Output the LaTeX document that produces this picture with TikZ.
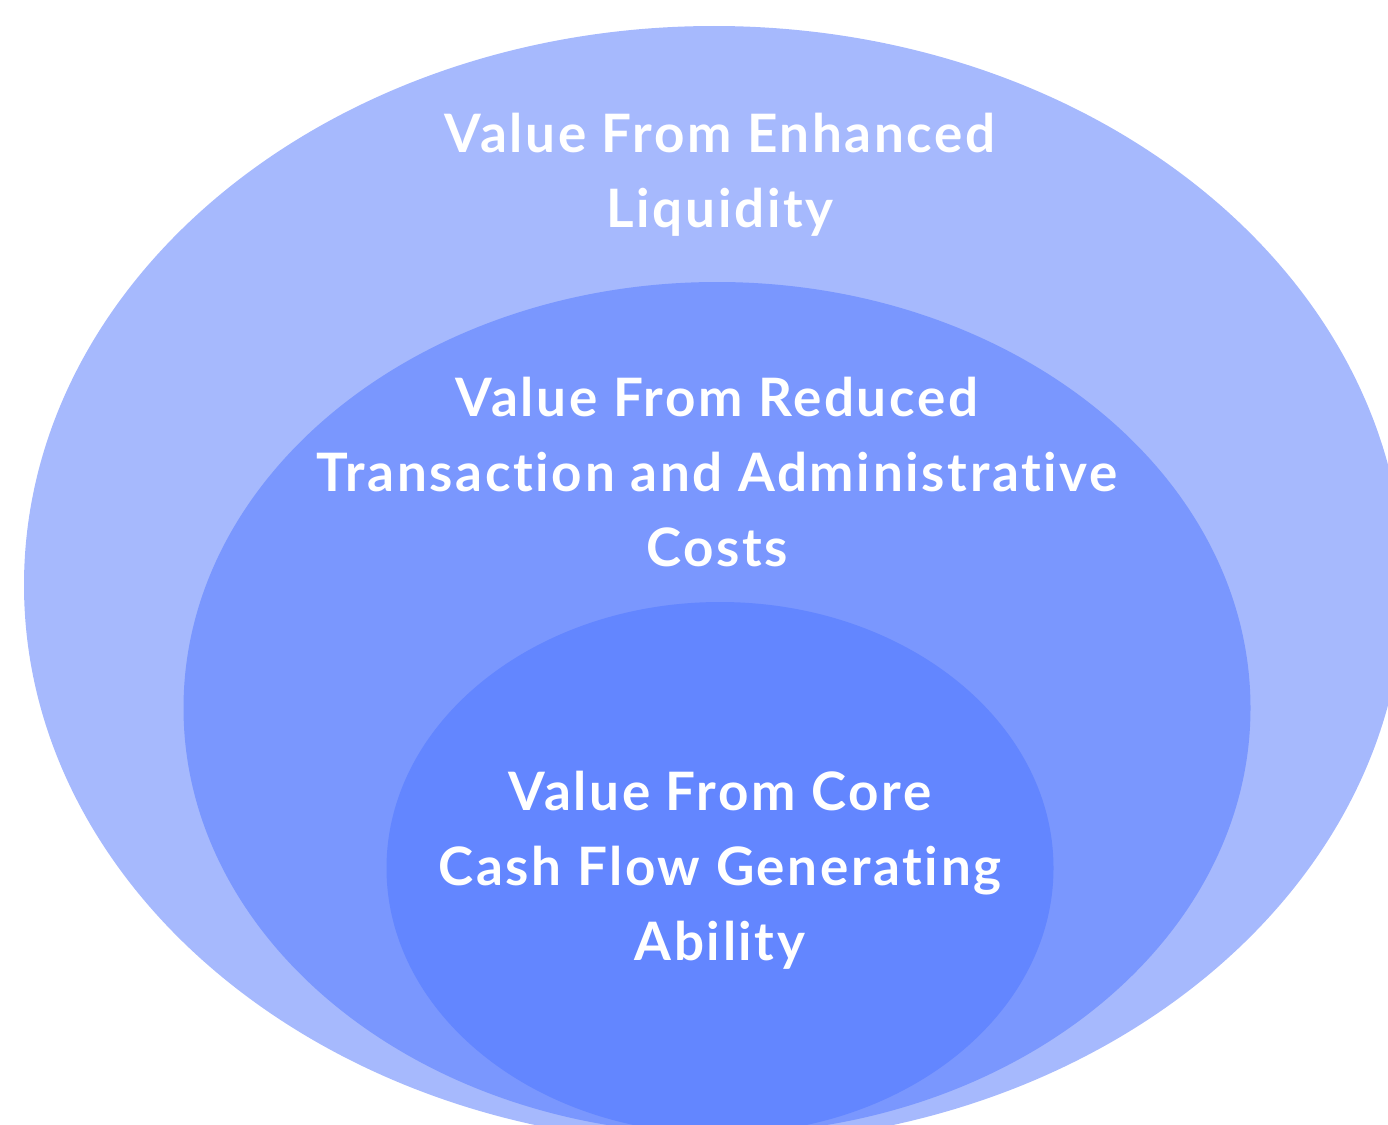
\documentclass[tikz,border=0pt]{standalone}
\usepackage{fontspec}
\setmainfont{Lato}[LetterSpace=5, Ligatures={NoCommon, NoRare, NoContextual}]
\usetikzlibrary{shapes.geometric}

\definecolor{outerblue}{HTML}{A6B9FD}
\definecolor{midblue}{HTML}{7A97FE}
\definecolor{coreblue}{HTML}{6386FF}

\tikzstyle{layer} = [ellipse, draw=none, inner sep=0pt]
\tikzstyle{label} = [text=white, align=center, font=\fontsize{53}{75}\selectfont\bfseries, inner sep=0pt]

\begin{document}
\begin{tikzpicture}[x=1pt, y=1pt]
    \useasboundingbox (0,0) rectangle (1388,-1124);
    \clip (0,0) rectangle (1388,-1124);
    % Place layers
    \node [layer, fill=outerblue, minimum width=1380pt, minimum height=1118pt] (enhanced) at (714,-585) {};
    \node [layer, fill=midblue, minimum width=1067pt, minimum height=852pt] (reduced) at (717,-708) {};
    \node [layer, fill=coreblue, minimum width=667pt, minimum height=532pt] (core) at (720,-868) {};
    % Place labels
    \node [label, anchor=base] (enhanced_txt) at (720,-227) {Value From Enhanced\\Liquidity};
    \node [label, anchor=base] (reduced_txt) at (717,-566) {Value From Reduced\\Transaction and Administrative\\Costs};
    \node [label, anchor=base] (core_txt) at (720,-960) {Value From Core\\Cash Flow Generating\\Ability};
\end{tikzpicture}
\end{document}
